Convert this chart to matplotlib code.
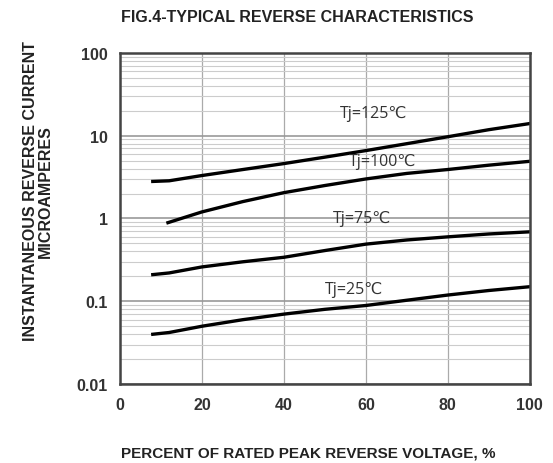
import numpy as np
import matplotlib.pyplot as plt
from matplotlib.ticker import LogLocator, FixedLocator, NullFormatter

# Значення
voltage_pct = [8, 12, 20, 30, 40, 50, 60, 70, 80, 90, 100]
i_125 = [2.8, 2.85, 3.3, 3.9, 4.6, 5.5, 6.6, 8.0, 9.7, 11.8, 14.0]
v_100 = [11.7, 20, 30, 40, 50, 60, 70, 80, 90, 100]
i_100 = [0.89, 1.2, 1.6, 2.05, 2.5, 3.0, 3.5, 3.9, 4.4, 4.9]
i_75 = [0.21, 0.22, 0.26, 0.30, 0.34, 0.41, 0.49, 0.55, 0.60, 0.65, 0.69]
i_25 = [0.040, 0.042, 0.050, 0.060, 0.070, 0.080, 0.089, 0.103, 0.119, 0.135, 0.15]

labels = ['Tj=125℃', 'Tj=100℃', 'Tj=75℃', 'Tj=25℃']
label_x = [62, 64, 59, 57]
label_y = [19, 5.0, 1.0, 0.14]

x_ticks = [0, 20, 40, 60, 80, 100]
y_ticks = [0.01, 0.1, 1, 10, 100]
y_ticklabels = ['0.01', '0.1', '1', '10', '100']

bold_font = ['Liberation Sans', 'DejaVu Sans']
label_font = ['Open Sans', 'DejaVu Sans']

fig = plt.figure(figsize=(5.53, 4.64), dpi=100)
ax = fig.add_axes([0.217, 0.170, 0.741, 0.714])

ax.plot(voltage_pct, i_125, color='black', lw=2.4)
ax.plot(v_100, i_100, color='black', lw=2.4)
ax.plot(voltage_pct, i_75, color='black', lw=2.4)
ax.plot(voltage_pct, i_25, color='black', lw=2.4)

for txt, lx, ly in zip(labels, label_x, label_y):
    ax.text(lx, ly, txt, ha='center', va='center', fontsize=11.5,
            color='#333333', family=label_font)

ax.set_yscale('log')
ax.set_xlim(0, 100)
ax.set_ylim(0.01, 100)
ax.set_xticks(x_ticks)
ax.set_xticklabels([str(v) for v in x_ticks])
ax.yaxis.set_major_locator(FixedLocator(y_ticks))
ax.set_yticklabels(y_ticklabels)
ax.yaxis.set_minor_locator(LogLocator(base=10, subs=np.arange(2, 10)))
ax.yaxis.set_minor_formatter(NullFormatter())

ax.grid(True, which='major', axis='y', color='#999999', lw=1.2)
ax.grid(True, which='minor', axis='y', color='#cccccc', lw=0.8)
ax.grid(True, which='major', axis='x', color='#aaaaaa', lw=0.9)

ax.tick_params(which='both', length=0, pad=9)
for lab in ax.get_xticklabels() + ax.get_yticklabels():
    lab.set_fontfamily(bold_font)
    lab.set_fontweight('bold')
    lab.set_fontsize(11.5)
    lab.set_color('#333333')

for s in ax.spines.values():
    s.set_color('#444444')
    s.set_linewidth(1.8)

fig.text(0.538, 0.962, 'FIG.4-TYPICAL REVERSE CHARACTERISTICS', ha='center', va='center',
         fontsize=11.5, fontweight='bold', family=bold_font, color='#222222')
fig.text(0.557, 0.022, 'PERCENT OF RATED PEAK REVERSE VOLTAGE, %', ha='center', va='center',
         fontsize=11, fontweight='bold', family=bold_font, color='#222222')
fig.text(0.068, 0.588, 'INSTANTANEOUS REVERSE CURRENT\nMICROAMPERES', ha='center', va='center',
         rotation=90, fontsize=11.5, fontweight='bold', family=bold_font, color='#222222',
         linespacing=1.0)

fig.savefig('out.png', dpi=100)
